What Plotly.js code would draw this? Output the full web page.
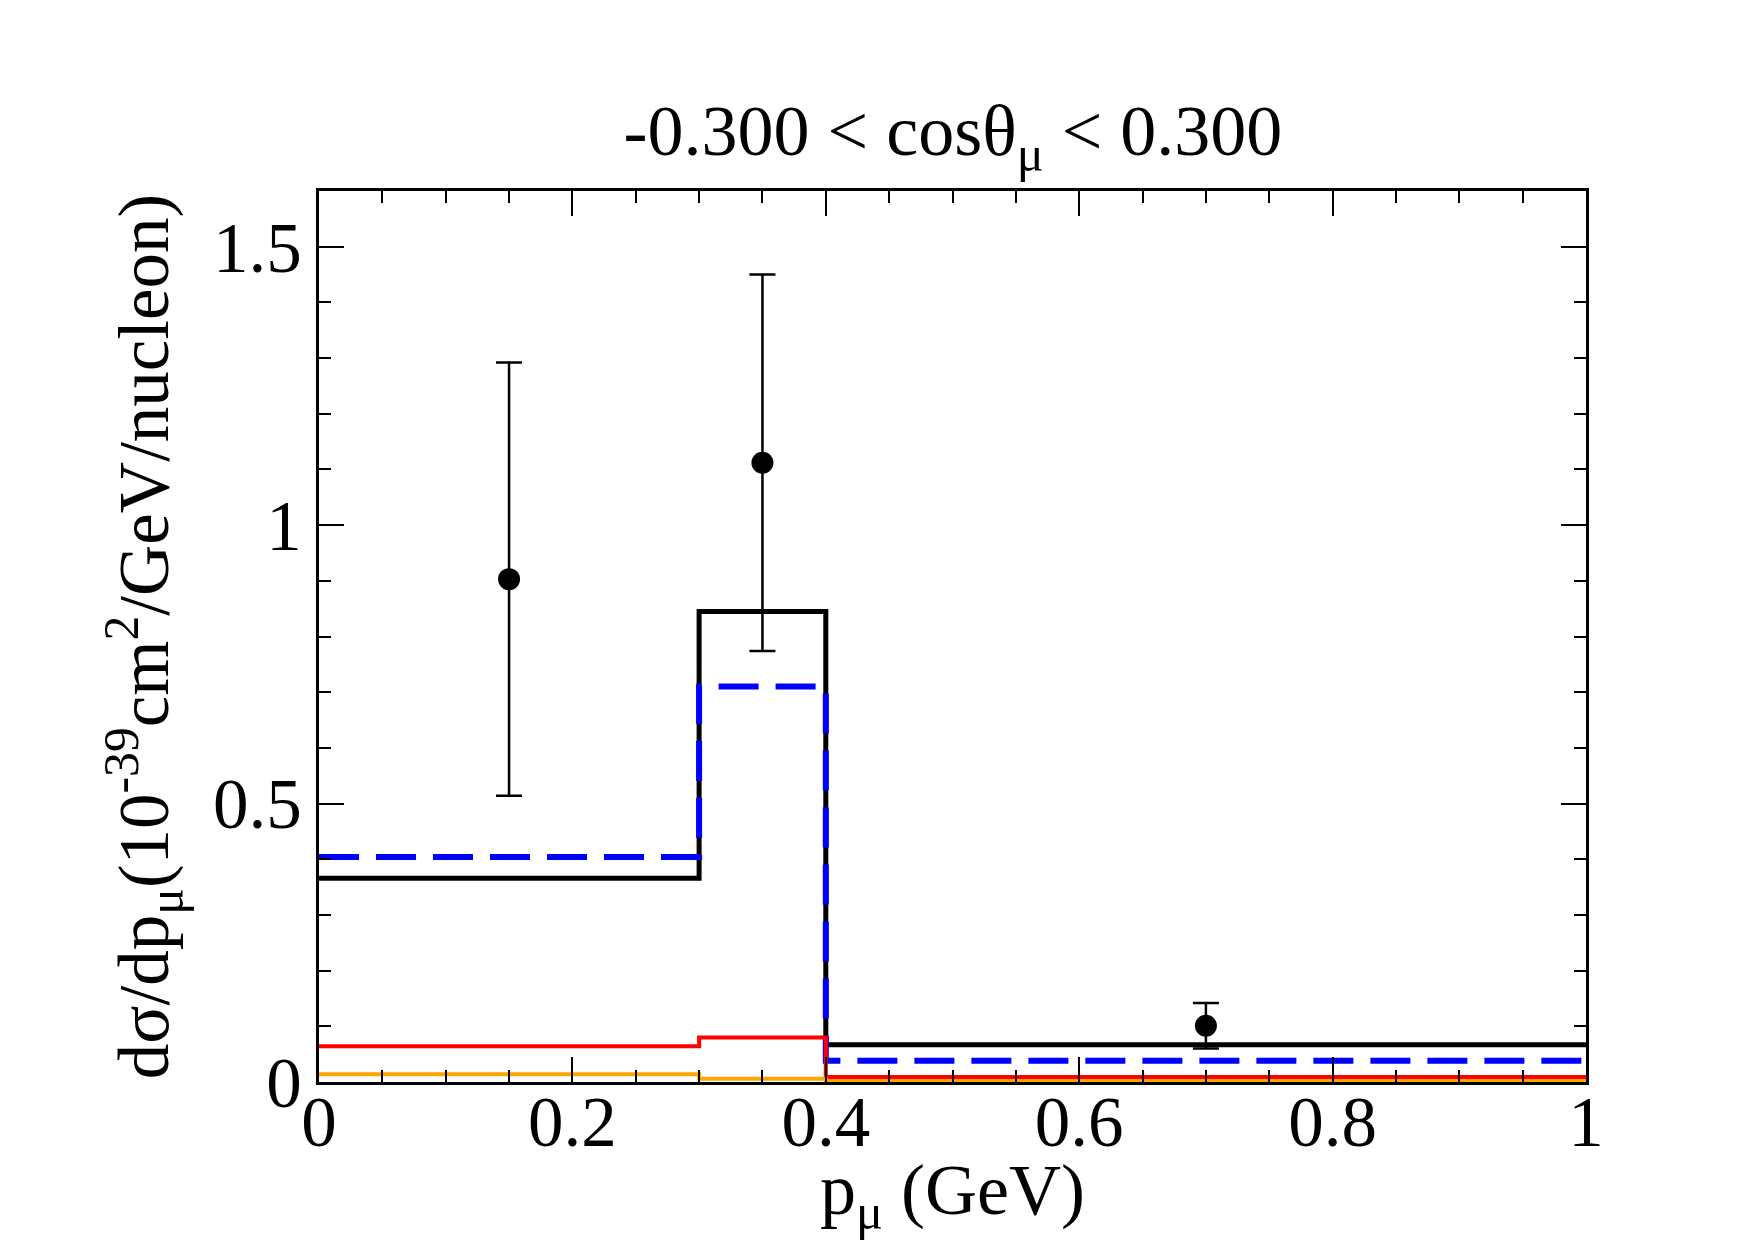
<!DOCTYPE html>
<html>
<head>
<meta charset="utf-8">
<script src="https://cdn.plot.ly/plotly-3.0.1.min.js"></script>
<style>html,body{margin:0;padding:0;background:#fff;}#chart{width:1755px;height:1240px;}</style>
</head>
<body>
<div id="chart"></div>
<script>
// Bin edges (GeV) and histogram values (10^-39 cm^2/GeV/nucleon)
const binEdges = [0, 0.3, 0.4, 1.0];
const totalModel = [0.366, 0.845, 0.067];   // black solid
const blueModel  = [0.404, 0.710, 0.038];   // blue dashed
const redModel   = [0.064, 0.080, 0.009];   // red
const orangeModel= [0.014, 0.006, 0.002];   // orange

// Data points
const dataX   = [0.15, 0.35, 0.70];
const dataY   = [0.903, 1.112, 0.101];
const dataErr = [0.389, 0.338, 0.041];

const titleText = "-0.300 &lt; cosθ<sub>μ</sub> &lt; 0.300";
const xTitle = "p<sub>μ</sub> (GeV)";
const yTitle = "dσ/dp<sub>μ</sub>(10<sup>-39</sup>cm<sup>2</sup>/GeV/nucleon)";

function stepY(v){ return v.concat([v[v.length-1]]); }

const FONT = "Liberation Serif, Times New Roman, serif";

const traces = [
  {x: binEdges, y: stepY(totalModel), mode:'lines', line:{shape:'hv', color:'#000000', width:5}, showlegend:false, hoverinfo:'skip'},
  {x: binEdges, y: stepY(blueModel), mode:'lines', line:{shape:'hv', color:'#0000ff', width:6, dash:'40px,17px'}, showlegend:false, hoverinfo:'skip'},
  {x: binEdges, y: stepY(redModel), mode:'lines', line:{shape:'hv', color:'#ff0000', width:4}, showlegend:false, hoverinfo:'skip'},
  {x: binEdges, y: stepY(orangeModel), mode:'lines', line:{shape:'hv', color:'#ffa500', width:4}, showlegend:false, hoverinfo:'skip'},
  {x: dataX, y: dataY, mode:'markers', marker:{color:'#000', size:22},
   error_y:{type:'data', array:dataErr, visible:true, color:'#000', thickness:2.5, width:13},
   showlegend:false}
];

const axisCommon = {
  showgrid:false, zeroline:false, showline:true, linecolor:'#000', linewidth:3,
  mirror:'ticks', ticks:'inside', ticklen:25, tickwidth:2, tickcolor:'#000',
  tickfont:{family:FONT, size:71, color:'#000'}
};

const layout = {
  width:1755, height:1240,
  paper_bgcolor:'#fff', plot_bgcolor:'#fff',
  margin:{l:319, r:169, t:191, b:158},
  font:{family:FONT, color:'#000'},
  title:{text:titleText, font:{family:FONT, size:72, color:'#000'}, x:0.543, xanchor:'center', y:0.895, yanchor:'middle', yref:'container'},
  xaxis: Object.assign({}, axisCommon, {
    range:[0,1], dtick:0.2, tick0:0,
    minor:{dtick:0.05, ticklen:12, tickwidth:2, ticks:'inside', tickcolor:'#000'},
    ticklabelstandoff:-24,
    title:{text:xTitle, font:{family:FONT, size:72, color:'#000'}, standoff:34},
    automargin:false
  }),
  yaxis: Object.assign({}, axisCommon, {
    range:[0,1.6], dtick:0.5, tick0:0,
    minor:{dtick:0.1, ticklen:12, tickwidth:2, ticks:'inside', tickcolor:'#000'},
    title:{text:yTitle, font:{family:FONT, size:71, color:'#000'}, standoff:22},
    automargin:false
  })
};

Plotly.newPlot('chart', traces, layout, {staticPlot:true, displayModeBar:false});
</script>
</body>
</html>
